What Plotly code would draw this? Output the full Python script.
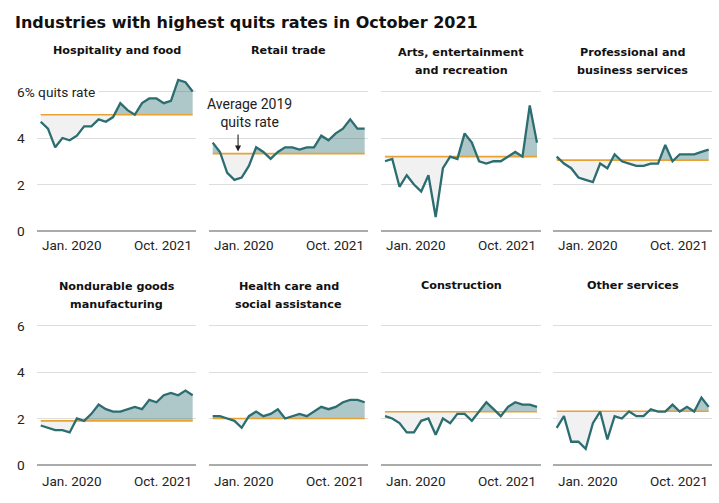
import plotly.graph_objects as go

# ---------------- data ----------------
MONTHS = ["2020-01", "2020-02", "2020-03", "2020-04", "2020-05", "2020-06",
          "2020-07", "2020-08", "2020-09", "2020-10", "2020-11", "2020-12",
          "2021-01", "2021-02", "2021-03", "2021-04", "2021-05", "2021-06",
          "2021-07", "2021-08", "2021-09", "2021-10"]
TICK_LABELS = ["Jan. 2020", "Oct. 2021"]

TITLES = ["Hospitality and food", "Retail trade",
          "Arts, entertainment<br>and recreation",
          "Professional and<br>business services",
          "Nondurable goods<br>manufacturing",
          "Health care and<br>social assistance",
          "Construction", "Other services"]

hospitality = [4.7, 4.4, 3.6, 4.0, 3.9, 4.1, 4.5, 4.5, 4.8, 4.7, 4.9, 5.5,
               5.2, 5.0, 5.5, 5.7, 5.7, 5.5, 5.6, 6.5, 6.4, 6.0]
retail = [3.8, 3.4, 2.5, 2.2, 2.3, 2.8, 3.6, 3.4, 3.1, 3.4, 3.6, 3.6,
          3.5, 3.6, 3.6, 4.1, 3.9, 4.2, 4.4, 4.8, 4.4, 4.4]
arts = [3.0, 3.1, 1.9, 2.4, 2.0, 1.7, 2.4, 0.6, 2.7, 3.2, 3.1, 4.2,
        3.8, 3.0, 2.9, 3.0, 3.0, 3.2, 3.4, 3.2, 5.4, 3.8]
professional = [3.2, 2.9, 2.7, 2.3, 2.2, 2.1, 2.9, 2.7, 3.3, 3.0, 2.9, 2.8,
                2.8, 2.9, 2.9, 3.7, 3.0, 3.3, 3.3, 3.3, 3.4, 3.5]
nondurable = [1.7, 1.6, 1.5, 1.5, 1.4, 2.0, 1.9, 2.2, 2.6, 2.4, 2.3, 2.3,
              2.4, 2.5, 2.4, 2.8, 2.7, 3.0, 3.1, 3.0, 3.2, 3.0]
health = [2.1, 2.1, 2.0, 1.9, 1.6, 2.1, 2.3, 2.1, 2.2, 2.4, 2.0, 2.1,
          2.2, 2.1, 2.3, 2.5, 2.4, 2.5, 2.7, 2.8, 2.8, 2.7]
construction = [2.1, 2.0, 1.8, 1.4, 1.4, 1.9, 2.0, 1.3, 2.0, 1.8, 2.2, 2.2,
                1.9, 2.3, 2.7, 2.4, 2.1, 2.5, 2.7, 2.6, 2.6, 2.5]
other = [1.6, 2.1, 1.0, 1.0, 0.7, 1.8, 2.3, 1.1, 2.1, 2.0, 2.3, 2.1,
         2.1, 2.4, 2.3, 2.3, 2.6, 2.3, 2.5, 2.3, 2.9, 2.5]

AVG_2019 = [5.0, 3.33, 3.2, 3.05, 1.9, 2.0, 2.29, 2.31]
SERIES = [hospitality, retail, arts, professional,
          nondurable, health, construction, other]

# ---------------- styling / layout ----------------
W, H = 719, 503
LINE_C = "#2b6d70"
ABOVE_C = "rgba(43,109,112,0.38)"
BELOW_C = "#f1f1f1"
AVG_C = "#e8a234"
GRID_C = "#dedede"
BASE_C = "#ababab"
TXT_C = "#222222"
FONT = "Roboto"
HEAVY = "DejaVu Sans"

COL_LEFT = [37.1, 209.1, 381.4, 553.1]   # px, axis domain left
COL_W = 159.2                            # px
ROW_ZERO = [231.0, 465.0]                # px of value 0
PPU = 23.25                              # px per unit
Y_LO, Y_HI = -0.05, 7.0
X_LO, X_HI = -0.5, len(MONTHS) - 0.5


def split_fill(xs, ys, ref):
    xe, ye = [xs[0]], [ys[0]]
    for i in range(1, len(xs)):
        a, b = ys[i - 1], ys[i]
        if (a - ref) * (b - ref) < 0:
            t = (ref - a) / (b - a)
            xe.append(xs[i - 1] + t * (xs[i] - xs[i - 1]))
            ye.append(ref)
        xe.append(xs[i])
        ye.append(ys[i])
    up = [max(v, ref) for v in ye]
    lo = [min(v, ref) for v in ye]
    return xe, up, lo


fig = go.Figure()
layout = dict(width=W, height=H, margin=dict(l=0, r=0, t=0, b=0),
              paper_bgcolor="white", plot_bgcolor="white", showlegend=False,
              font=dict(family=FONT, color=TXT_C))
annotations = []
xs = list(range(len(MONTHS)))

for k, (ys, avg, title) in enumerate(zip(SERIES, AVG_2019, TITLES)):
    row, col = divmod(k, 4)
    n = k + 1
    xa = "x" if n == 1 else f"x{n}"
    ya = "y" if n == 1 else f"y{n}"
    left = COL_LEFT[col]
    zero = ROW_ZERO[row]
    bottom_px = zero - Y_LO * PPU
    top_px = zero - Y_HI * PPU
    layout["xaxis" if n == 1 else f"xaxis{n}"] = dict(
        domain=[left / W, (left + COL_W) / W], range=[X_LO, X_HI],
        anchor=ya, visible=False, fixedrange=True)
    layout["yaxis" if n == 1 else f"yaxis{n}"] = dict(
        domain=[(H - bottom_px) / H, (H - top_px) / H], range=[Y_LO, Y_HI],
        anchor=xa, tickvals=[0, 2, 4, 6], showticklabels=False, ticks="",
        showgrid=True, gridcolor=GRID_C, gridwidth=1,
        zeroline=True, zerolinecolor=BASE_C, zerolinewidth=1.6,
        showline=False, fixedrange=True)

    xe, up, lo = split_fill(xs, ys, avg)
    fig.add_trace(go.Scatter(x=xe + xe[::-1], y=up + [avg] * len(xe),
                             fill="toself", fillcolor=ABOVE_C, mode="lines",
                             line=dict(width=0), hoverinfo="skip",
                             xaxis=xa, yaxis=ya))
    fig.add_trace(go.Scatter(x=xe + xe[::-1], y=lo + [avg] * len(xe),
                             fill="toself", fillcolor=BELOW_C, mode="lines",
                             line=dict(width=0), hoverinfo="skip",
                             xaxis=xa, yaxis=ya))
    fig.add_trace(go.Scatter(x=[xs[0], xs[-1]], y=[avg, avg], mode="lines",
                             line=dict(color=AVG_C, width=1.6),
                             hoverinfo="skip", xaxis=xa, yaxis=ya))
    fig.add_trace(go.Scatter(x=xs, y=ys, mode="lines",
                             line=dict(color=LINE_C, width=2.3),
                             xaxis=xa, yaxis=ya))

    # panel title
    lines = title.split("<br>")
    title_top = [51.0, 285.0][row]
    for j, t in enumerate(lines):
        annotations.append(dict(
            text=t, xref="paper", yref="paper",
            x=(left + COL_W / 2) / W,
            y=(H - (title_top + 1.5 * (len(lines) > 1) + 17.5 * j)) / H,
            xanchor="center", yanchor="middle", showarrow=False,
            font=dict(size=11.2, family=HEAVY, weight=700, color="#111111")))

    # x tick labels
    lab_y = [245.0, 480.5][row]
    annotations.append(dict(text=TICK_LABELS[0], xref=xa, yref="paper",
                            x=xs[0], y=(H - lab_y) / H, xanchor="left",
                            yanchor="middle", showarrow=False, borderpad=0,
                            font=dict(size=13.5, family=FONT, color=TXT_C)))
    annotations.append(dict(text=TICK_LABELS[1], xref=xa, yref="paper",
                            x=xs[-1], y=(H - lab_y) / H, xanchor="right",
                            yanchor="middle", showarrow=False, borderpad=0,
                            font=dict(size=13.5, family=FONT, color=TXT_C)))

    # y tick labels on first column
    if col == 0:
        for v in [0, 2, 4, 6]:
            txt = "6% quits rate" if (v == 6 and row == 0) else str(v)
            annotations.append(dict(
                text=txt, xref="paper", yref=ya, x=13 / W, y=v,
                xanchor="left", yanchor="middle", showarrow=False,
                bgcolor="white", borderpad=3,
                font=dict(size=13.7, family=FONT, color=TXT_C)))

# retail annotation
annotations.append(dict(text="Average 2019<br>quits rate", xref="x2", yref="y2",
                        x=5.05, y=5.06, xanchor="center", yanchor="middle",
                        showarrow=False, align="center",
                        font=dict(size=14, family=FONT, color=TXT_C)))
annotations.append(dict(text="", xref="x2", yref="y2", axref="x2", ayref="y2",
                        x=3.5, y=3.42, ax=3.5, ay=4.22, showarrow=True,
                        arrowhead=2, arrowsize=1.1, arrowwidth=1.1,
                        arrowcolor=TXT_C))

# main title
annotations.append(dict(text="Industries with highest quits rates in October 2021",
                        xref="paper", yref="paper", x=13 / W, y=(H - 22.5) / H,
                        xanchor="left", yanchor="middle", showarrow=False,
                        font=dict(size=16.0, family=HEAVY, weight=700,
                                  color="#111111")))

layout["annotations"] = annotations
fig.update_layout(**layout)
fig.write_html("out.html", config={"displayModeBar": False},
               post_script="document.body.style.margin='0px';"
                           "document.body.style.overflow='hidden';")
